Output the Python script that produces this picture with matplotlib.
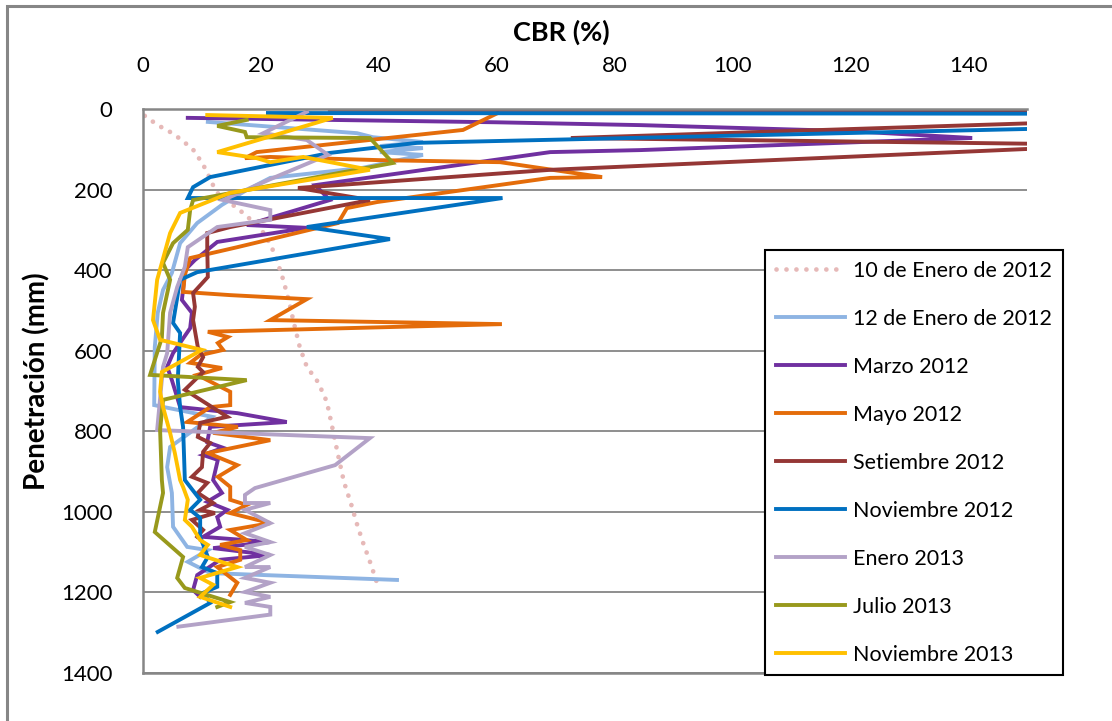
import matplotlib
matplotlib.use("Agg")
import matplotlib.pyplot as plt
from matplotlib.patches import Rectangle

plt.rcParams['font.family'] = ['Lato', 'DejaVu Sans']

# --- data: CBR (%) and penetration depth (mm) per campaign ---
ene10_2012_cbr = [0.3, 2.5, 4.6, 6.6, 8.7, 9.7, 10.7, 11.7, 12.6, 16.8, 19.9, 21.7, 22.7, 23.8,
                  24.8, 25.6, 26.6, 27.8, 29.7, 31.2, 32.1, 33.1, 34.1, 35.3, 36.3, 37.3, 38.4, 39.7]
ene10_2012_pen = [17, 40, 57, 77, 104, 127, 151, 184, 208, 256, 295, 338, 375, 424,
                  479, 531, 591, 640, 678, 727, 789, 859, 926, 980, 1030, 1075, 1119, 1176]

ene12_2012_cbr = [11.0, 36.3, 39.0, 47.5, 40.2, 47.5, 40.2, 47.5, 37.3, 21.6, 17.6, 13.4, 9.2, 6.3,
                  4.9, 3.4, 2.5, 2.0, 1.9, 11.7, 4.6, 4.1, 4.9, 5.1, 7.5, 11.0, 7.6, 11.4, 43.1]
ene12_2012_pen = [32, 60, 70, 82, 92, 97, 107, 114, 146, 171, 201, 238, 283, 333,
                  407, 449, 506, 591, 735, 764, 839, 889, 953, 1037, 1087, 1095, 1124, 1152, 1169]

mar_2012_cbr = [7.6, 60, 84.4, 120, 140.7, 84.4, 69.1, 29.2, 31.7, 22.1, 17.6, 27.8, 12.6, 8.8,
                7.1, 6.8, 6.6, 8.3, 8.0, 5.1, 4.1, 4.9, 6.3, 16.0, 24.4, 11.4, 10.9, 13.6, 10.2,
                12.7, 11.9, 13.4, 10.9, 14.3, 12.6, 13.1, 10.2, 21.6, 11.9, 21.6, 13.1, 9.2, 8.5, 9.7]
mar_2012_pen = [22, 33, 40, 55, 72, 102, 107, 189, 226, 268, 288, 295, 330, 375,
                400, 449, 474, 506, 544, 606, 640, 673, 740, 755, 777, 789, 827, 841, 859,
                871, 921, 953, 975, 995, 1013, 1037, 1062, 1075, 1090, 1107, 1119, 1157, 1194, 1211]

may_2012_cbr = [60.2, 54.3, 19.3, 17.3, 21.6, 40.2, 60.6, 77.9, 69.1, 39.7, 34.6, 33.1, 16.0, 8.0,
                7.1, 6.8, 14.8, 27.8, 21.6, 60.9, 11.0, 14.4, 12.7, 13.6, 9.7, 8.0, 13.4, 9.2,
                14.8, 14.8, 11.4, 7.5, 16.1, 11.9, 21.6, 11.0, 16.0, 12.7, 14.8, 14.8, 17.6, 14.8,
                21.6, 14.8, 17.6, 13.1, 16.5, 16.5, 12.6, 16.0, 14.8]
may_2012_pen = [10, 52, 107, 122, 119, 127, 132, 169, 171, 231, 246, 283, 343, 370,
                412, 454, 462, 472, 524, 534, 553, 566, 581, 598, 611, 630, 643, 660,
                702, 735, 740, 777, 789, 804, 822, 854, 884, 913, 938, 970, 983, 1003,
                1028, 1045, 1070, 1082, 1095, 1119, 1137, 1176, 1206]

set_2012_cbr = [31.7, 220, 72.6, 166, 69.1, 26.3, 38.5, 14.8, 10.9, 10.9, 11.0, 8.5, 8.8, 8.5,
                9.3, 10.2, 9.3, 10.2, 7.1, 8.5, 14.3, 9.7, 9.3, 11.4, 10.2, 10.0, 8.3, 10.9,
                9.3, 11.9, 9.7, 12.2, 8.3, 10.2, 9.2]
set_2012_pen = [2, 3, 72, 89, 151, 196, 226, 293, 308, 343, 417, 457, 491, 524,
                591, 616, 640, 653, 697, 710, 764, 779, 814, 829, 851, 889, 913, 928,
                953, 978, 995, 1003, 1020, 1045, 1062]

nov_2012_cbr = [21.2, 260, 46.5, 31.7, 11.4, 8.5, 7.6, 61.0, 27.8, 41.9, 9.2, 6.3, 5.1, 6.3,
                5.9, 6.3, 6.8, 7.1, 8.0, 9.7, 8.0, 9.7, 9.7, 11.0, 10.0, 12.6, 12.6, 10.2, 11.4, 2.5]
nov_2012_pen = [10, 13, 84, 109, 169, 194, 221, 221, 293, 323, 405, 424, 531, 556,
                673, 740, 789, 921, 938, 970, 995, 1015, 1062, 1112, 1137, 1152, 1186, 1201, 1226, 1298]

ene_2013_cbr = [27.8, 20.4, 27.8, 31.4, 22.1, 13.6, 21.6, 21.6, 12.6, 7.6, 7.1, 5.8, 4.6, 4.1,
                3.4, 2.4, 38.5, 32.6, 19.0, 17.3, 17.3, 21.6, 17.3, 21.6, 17.3, 21.6, 17.3,
                21.6, 17.3, 21.6, 17.3, 21.6, 17.3, 21.6, 17.3, 21.6, 21.6, 6.0]
ene_2013_pen = [7, 60, 77, 114, 171, 226, 251, 275, 293, 343, 392, 442, 506, 606,
                640, 797, 817, 884, 941, 958, 978, 978, 995, 1028, 1053, 1075, 1087,
                1107, 1137, 1137, 1164, 1176, 1199, 1211, 1226, 1236, 1255, 1285]

jul_2013_cbr = [17.6, 12.6, 17.3, 17.6, 38.5, 42.4, 8.5, 8.0, 7.6, 5.1, 3.4, 4.6, 3.4, 3.2,
                1.2, 17.6, 3.4, 2.9, 3.2, 3.4, 2.0, 6.8, 5.8, 7.1, 14.8, 12.6]
jul_2013_pen = [27, 42, 57, 70, 72, 134, 226, 251, 300, 333, 382, 424, 506, 568,
                660, 673, 722, 797, 921, 953, 1050, 1112, 1164, 1189, 1224, 1236]

nov_2013_cbr = [10.9, 32.2, 12.6, 19.3, 21.6, 27.2, 38.5, 14.8, 6.3, 4.6, 3.2, 2.4, 1.7, 2.9,
                10.0, 3.2, 2.9, 3.4, 4.6, 5.4, 6.3, 6.8, 7.6, 7.1, 8.3, 9.7, 11.0, 9.7, 16.0,
                9.7, 11.9, 9.7, 14.8]
nov_2013_pen = [15, 22, 107, 122, 132, 119, 151, 208, 258, 308, 382, 424, 524, 573,
                598, 653, 702, 740, 804, 854, 921, 938, 970, 1020, 1037, 1070, 1082, 1107, 1137,
                1164, 1181, 1211, 1236]

labels = ["10 de Enero de 2012", "12 de Enero de 2012", "Marzo 2012", "Mayo 2012",
          "Setiembre 2012", "Noviembre 2012", "Enero 2013", "Julio 2013", "Noviembre 2013"]
colors = ["#E6B9B8", "#8EB4E3", "#7030A0", "#E46C0A", "#953735",
          "#0070C0", "#B3A2C7", "#98991C", "#FFC000"]
series = [(ene10_2012_cbr, ene10_2012_pen), (ene12_2012_cbr, ene12_2012_pen),
          (mar_2012_cbr, mar_2012_pen), (may_2012_cbr, may_2012_pen),
          (set_2012_cbr, set_2012_pen), (nov_2012_cbr, nov_2012_pen),
          (ene_2013_cbr, ene_2013_pen), (jul_2013_cbr, jul_2013_pen),
          (nov_2013_cbr, nov_2013_pen)]

W, H = 1112, 721
fig = plt.figure(figsize=(W / 100, H / 100), dpi=100)
ax = fig.add_axes([143 / W, 1 - 673 / H, (1027 - 143) / W, (673 - 109) / H])

for i, (cbr, pen) in enumerate(series):
    if i == 0:
        ax.plot(cbr, pen, color=colors[i], lw=3.4, linestyle=(0, (0.01, 2.1)),
                dash_capstyle='round', label=labels[i])
    else:
        ax.plot(cbr, pen, color=colors[i], lw=2.8, solid_joinstyle='miter',
                label=labels[i])

ax.set_xlim(0, 150)
ax.set_ylim(1400, 0)
ax.set_xticks(range(0, 141, 20))
ax.set_yticks(range(0, 1401, 200))
ax.xaxis.tick_top()
ax.tick_params(axis='both', length=0, labelsize=16, colors='black')
ax.tick_params(axis='x', pad=24)
ax.tick_params(axis='y', pad=22)
ax.grid(axis='y', color='#868686', lw=1.3)
ax.set_axisbelow(True)
for side in ['left', 'top', 'bottom']:
    ax.spines[side].set_color('#868686')
    ax.spines[side].set_linewidth(1.8)
ax.spines['right'].set_visible(False)

fig.text(561 / W, 1 - 32 / H, "CBR (%)", ha='center', va='center',
         fontsize=19.5, fontweight='bold')
fig.text(37 / W, 1 - 381 / H, "Penetración (mm)", ha='center', va='center',
         rotation=90, fontsize=20, fontweight='bold')

leg = fig.legend(loc='upper left', bbox_to_anchor=(765 / W, 1 - 250 / H),
                 bbox_transform=fig.transFigure, fontsize=15.5, frameon=True,
                 fancybox=False, edgecolor='black', framealpha=1,
                 handlelength=3.2, handletextpad=0.4, labelspacing=1.3,
                 borderpad=0.5, borderaxespad=0)
leg.get_frame().set_linewidth(1.5)

fig.patches.append(Rectangle((7 / W, -0.1), 1.2, 1.1 - 6 / H, transform=fig.transFigure,
                             fill=False, edgecolor='#868686', lw=2.2))

fig.savefig("out.png", dpi=100)
